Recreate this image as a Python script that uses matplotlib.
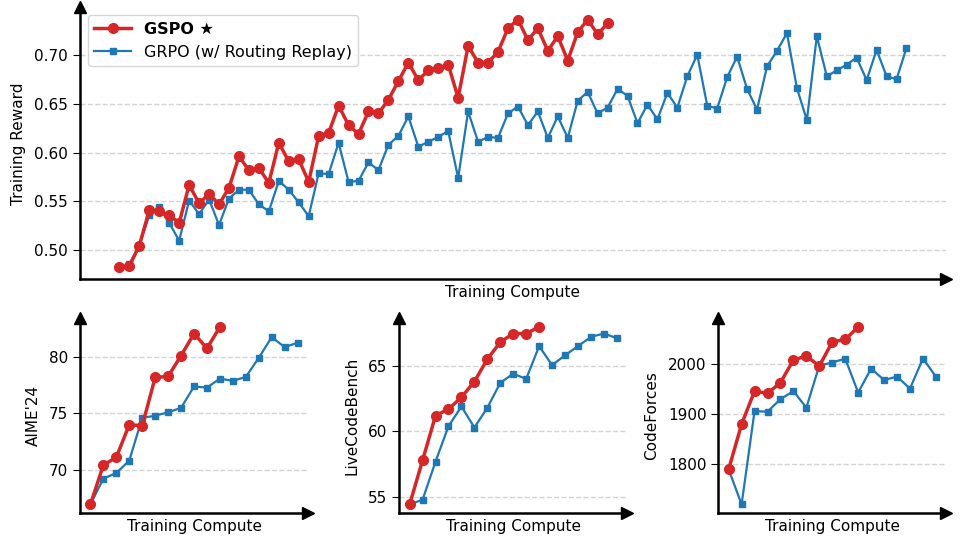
import matplotlib
matplotlib.use("Agg")
import matplotlib.pyplot as plt
from matplotlib.ticker import MultipleLocator

# training reward curves (one point per eval step)
gspo_reward = [0.483, 0.484, 0.505, 0.541, 0.540, 0.536, 0.528, 0.567, 0.548, 0.558,
               0.547, 0.564, 0.596, 0.582, 0.584, 0.569, 0.610, 0.591, 0.593, 0.570,
               0.617, 0.620, 0.648, 0.628, 0.619, 0.642, 0.640, 0.654, 0.673, 0.692,
               0.674, 0.684, 0.686, 0.690, 0.656, 0.709, 0.692, 0.692, 0.703, 0.727,
               0.736, 0.715, 0.727, 0.704, 0.719, 0.694, 0.723, 0.736, 0.721, 0.732]
grpo_reward = [0.486, 0.505, 0.536, 0.544, 0.528, 0.510, 0.551, 0.537, 0.552, 0.526,
               0.553, 0.562, 0.562, 0.547, 0.540, 0.571, 0.562, 0.549, 0.535, 0.579,
               0.578, 0.610, 0.570, 0.571, 0.590, 0.582, 0.608, 0.617, 0.637, 0.606,
               0.611, 0.616, 0.622, 0.574, 0.642, 0.611, 0.616, 0.615, 0.640, 0.647,
               0.628, 0.642, 0.615, 0.637, 0.615, 0.653, 0.662, 0.640, 0.646, 0.665,
               0.658, 0.630, 0.649, 0.634, 0.661, 0.646, 0.678, 0.700, 0.648, 0.645,
               0.677, 0.698, 0.665, 0.644, 0.688, 0.704, 0.722, 0.666, 0.633, 0.719,
               0.678, 0.684, 0.690, 0.697, 0.674, 0.705, 0.678, 0.675, 0.707]
gspo_steps = list(range(len(gspo_reward)))
grpo_steps = list(range(1, len(grpo_reward) + 1))

# benchmark scores
gspo_aime = [66.9, 70.4, 71.1, 74.0, 73.9, 78.2, 78.3, 80.15, 82.1, 80.8, 82.7]
grpo_aime = [66.9, 69.2, 69.7, 70.8, 74.6, 74.8, 75.1, 75.5, 77.4, 77.3, 78.1,
             77.9, 78.25, 79.95, 81.8, 80.9, 81.3]
gspo_lcb = [54.44, 57.8, 61.2, 61.7, 62.6, 63.8, 65.5, 66.8, 67.46, 67.46, 67.96]
grpo_lcb = [54.44, 54.8, 57.7, 60.4, 61.9, 60.3, 61.8, 63.7, 64.4, 64.0, 66.5,
            65.05, 65.8, 66.5, 67.2, 67.46, 67.1]
gspo_cf = [1790, 1880, 1946, 1941.5, 1963, 2008, 2016, 1996, 2044, 2049, 2074]
grpo_cf = [1790, 1720, 1906, 1905, 1930, 1946, 1913, 1997, 2003, 2011, 1943,
           1991, 1968, 1975, 1951, 2011, 1975]

RED = "#d62728"
BLUE = "#1f77b4"
plt.rcParams["font.size"] = 11


def style_axes(ax, ylabel):
    for s in ("top", "right"):
        ax.spines[s].set_visible(False)
    for s in ("left", "bottom"):
        ax.spines[s].set_linewidth(1.8)
    ax.set_xticks([])
    ax.tick_params(axis="y", length=5, width=0.8)
    ax.grid(axis="y", linestyle="--", color="#d4d4d4", linewidth=1)
    ax.set_axisbelow(True)
    ax.set_xlabel("Training Compute", labelpad=4)
    ax.set_ylabel(ylabel, labelpad=6)
    # arrow heads on the axes
    ax.plot(1, 0, ">k", markersize=8, transform=ax.transAxes, clip_on=False)
    ax.plot(0, 1, "^k", markersize=8, transform=ax.transAxes, clip_on=False)


fig = plt.figure(figsize=(9.75, 5.5), dpi=100)

ax = fig.add_axes([0.0821, 0.492, 0.888, 0.495])
ax.plot(grpo_steps, grpo_reward, color=BLUE, lw=1.6, marker="s", ms=5,
        label="GRPO (w/ Routing Replay)", zorder=2)
ax.plot(gspo_steps, gspo_reward, color=RED, lw=2.5, marker="o", ms=7,
        label="GSPO \u2605", zorder=3)
style_axes(ax, "Training Reward")
handles, labels = ax.get_legend_handles_labels()
leg = ax.legend(handles[::-1], labels[::-1], loc="upper left", fontsize=11.5,
                handlelength=2.3, borderaxespad=0.5)
leg.get_texts()[0].set_fontweight("bold")

bench = [("AIME'24", gspo_aime, grpo_aime, 0.0821, 5),
         ("LiveCodeBench", gspo_lcb, grpo_lcb, 0.4095, 5),
         ("CodeForces", gspo_cf, grpo_cf, 0.7367, 100)]
for name, g_vals, r_vals, left, step in bench:
    bx = fig.add_axes([left, 0.0667, 0.2338, 0.355])
    bx.plot(range(len(r_vals)), r_vals, color=BLUE, lw=1.6, marker="s", ms=5, zorder=2)
    bx.plot(range(len(g_vals)), g_vals, color=RED, lw=2.5, marker="o", ms=7, zorder=3)
    bx.yaxis.set_major_locator(MultipleLocator(step))
    style_axes(bx, name)

fig.savefig("out.png", dpi=100)
